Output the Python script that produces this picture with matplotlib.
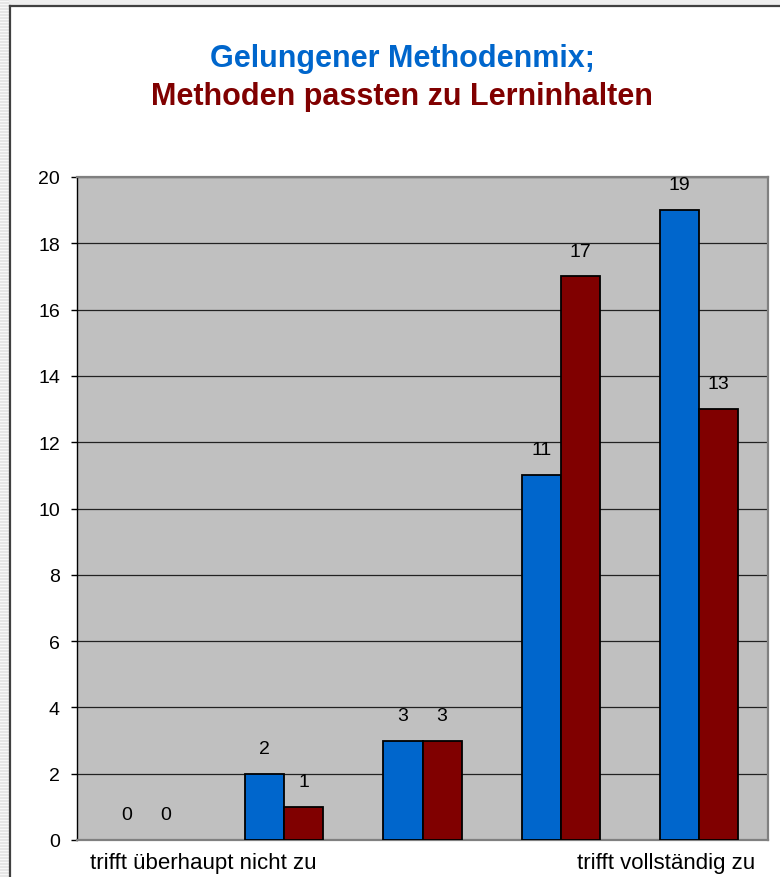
import numpy as np
import matplotlib
matplotlib.use("Agg")
import matplotlib.pyplot as plt
from matplotlib.lines import Line2D

plt.rcParams['font.family'] = ['Liberation Sans', 'DejaVu Sans']

# ───── Data ─────
categories = ["trifft überhaupt nicht zu", "", "", "", "trifft vollständig zu"]
methodenmix = [0, 2, 3, 11, 19]      # Gelungener Methodenmix
lerninhalte = [0, 1, 3, 17, 13]      # Methoden passten zu Lerninhalten
y_ticks = [0, 2, 4, 6, 8, 10, 12, 14, 16, 18, 20]

BLUE = "#0066CC"
RED = "#800000"
W, H = 780, 878

fig = plt.figure(figsize=(W / 100, H / 100), dpi=100)
fig.patch.set_facecolor("white")

# slide frame decoration: striped left margin, light top strip, dark border
strip = fig.add_axes([0, 0, 9 / W, 1])
rows = np.array([[0.90], [0.90], [0.97]] * (H // 3 + 1))[:H]
strip.imshow(rows, cmap="gray", vmin=0, vmax=1, aspect="auto", interpolation="nearest")
strip.axis("off")
fig.patches.append(plt.Rectangle((9 / W, (H - 6) / H), 1, 6 / H, transform=fig.transFigure,
                                 facecolor="#EEEEEE", edgecolor="none"))
fig.lines.append(Line2D([10 / W, 10 / W], [0, (H - 6.5) / H], transform=fig.transFigure,
                        color="#404040", lw=1.6))
fig.lines.append(Line2D([10 / W, 1], [(H - 6.5) / H, (H - 6.5) / H], transform=fig.transFigure,
                        color="#404040", lw=1.6))

# ───── Plot area ─────
ax = fig.add_axes([77 / W, 37 / H, (768 - 77) / W, (841 - 178) / H])
ax.set_facecolor("#C0C0C0")

x = np.arange(len(methodenmix))
bw = 0.283
b1 = ax.bar(x - bw / 2, methodenmix, bw, color=BLUE, edgecolor="black", linewidth=1.3, zorder=3)
b2 = ax.bar(x + bw / 2, lerninhalte, bw, color=RED, edgecolor="black", linewidth=1.3, zorder=3)

for bars, vals in ((b1, methodenmix), (b2, lerninhalte)):
    for rect, v in zip(bars, vals):
        if v == 0:
            rect.set_edgecolor("none")
        ax.annotate(str(v), (rect.get_x() + rect.get_width() / 2, v),
                    xytext=(0, 18.3), textcoords="offset points",
                    ha="center", va="center", fontsize=14, color="black")

ax.set_xlim(-0.5, len(categories) - 0.5)
ax.set_ylim(0, 20)
ax.set_yticks(y_ticks)
ax.tick_params(axis="y", direction="out", length=4.3, width=1, pad=8, labelsize=14)
ax.set_xticks([])
ax.yaxis.grid(True, color="#222222", linewidth=0.9, zorder=1)
ax.set_axisbelow(True)

for side in ("top", "right", "bottom"):
    ax.spines[side].set_color("#808080")
    ax.spines[side].set_linewidth(1.6)
ax.spines["left"].set_color("black")
ax.spines["left"].set_linewidth(1.0)

# category labels (Excel only shows the two end labels)
ax.annotate(categories[0], (-0.406, 0), xycoords=("data", "axes fraction"),
            xytext=(0, -8.5), textcoords="offset points", ha="left", va="top", fontsize=16)
ax.annotate(categories[-1], (4.406, 0), xycoords=("data", "axes fraction"),
            xytext=(0, -8.5), textcoords="offset points", ha="right", va="top", fontsize=16)

# ───── Title ─────
fig.text(402 / W, (H - 58.5) / H, "Gelungener Methodenmix;", color=BLUE,
         fontsize=22, fontweight="bold", ha="center", va="center")
fig.text(402 / W, (H - 96.5) / H, "Methoden passten zu Lerninhalten", color=RED,
         fontsize=22, fontweight="bold", ha="center", va="center")

fig.savefig("out.png", dpi=100)
